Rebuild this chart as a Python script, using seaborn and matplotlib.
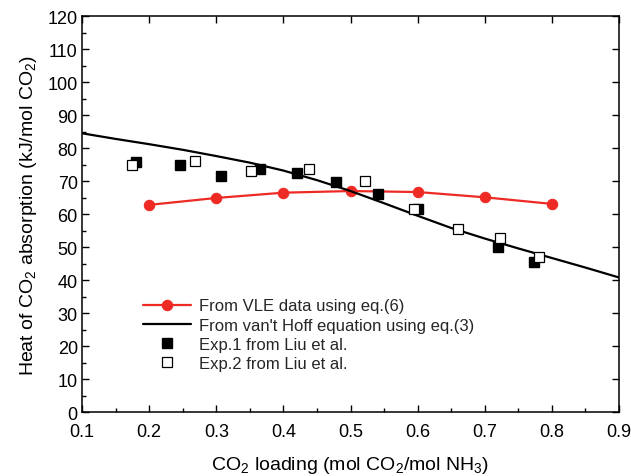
import matplotlib
matplotlib.use("Agg")
import matplotlib.pyplot as plt
import seaborn as sns
import pandas as pd
from matplotlib.ticker import MultipleLocator

sns.set_theme(style="white")
plt.rcParams['font.family'] = ['Liberation Sans', 'DejaVu Sans']
plt.rcParams['mathtext.fontset'] = 'custom'
plt.rcParams['mathtext.rm'] = 'Liberation Sans'

# VLE data (eq.6)
vle_x = [0.2, 0.3, 0.4, 0.5, 0.6, 0.7, 0.8]
vle_y = [62.8, 64.9, 66.5, 67.0, 66.7, 65.1, 63.1]

# van't Hoff (eq.3)
vh_x = [0.1, 0.15, 0.2, 0.25, 0.3, 0.35, 0.4, 0.45, 0.5, 0.55, 0.6, 0.65, 0.7, 0.75, 0.8, 0.85, 0.9]
vh_y = [84.5, 82.8, 81.2, 79.5, 77.6, 75.6, 73.2, 70.3, 67.0, 63.3, 59.5, 55.8, 52.6, 49.6, 46.7, 43.8, 40.8]

# Exp.1 (filled squares)
exp1_x = [0.181, 0.246, 0.307, 0.365, 0.420, 0.479, 0.541, 0.600, 0.719, 0.774]
exp1_y = [75.7, 74.9, 71.6, 73.8, 72.6, 69.6, 66.1, 61.5, 49.9, 45.4]

# Exp.2 (open squares)
exp2_x = [0.175, 0.269, 0.352, 0.438, 0.521, 0.594, 0.660, 0.722, 0.781]
exp2_y = [74.8, 76.2, 73.1, 73.6, 70.1, 61.7, 55.5, 52.7, 47.1]

fig = plt.figure(figsize=(6.31, 4.77), dpi=100)
ax = fig.add_axes([0.130, 0.134, 0.851, 0.830])

red = "#ee2a24"
sns.lineplot(x=vle_x, y=vle_y, ax=ax, color=red, marker="o", markersize=7.5,
             markeredgecolor=red, linewidth=1.6, label="From VLE data using eq.(6)")
sns.lineplot(x=vh_x, y=vh_y, ax=ax, color="black", linewidth=1.6,
             label="From van't Hoff equation using eq.(3)")
ax.plot(exp1_x, exp1_y, linestyle="none", marker="s", markersize=7,
        color="black", markeredgecolor="black", label="Exp.1 from Liu et al.")
ax.plot(exp2_x, exp2_y, linestyle="none", marker="s", markersize=7,
        markerfacecolor="white", markeredgecolor="black", markeredgewidth=0.9,
        label="Exp.2 from Liu et al.")

ax.set_xlim(0.1, 0.9)
ax.set_ylim(0, 120)
ax.xaxis.set_major_locator(MultipleLocator(0.1))
ax.xaxis.set_minor_locator(MultipleLocator(0.05))
ax.yaxis.set_major_locator(MultipleLocator(10))
ax.yaxis.set_minor_locator(MultipleLocator(5))
ax.set_xticklabels([f"{v:.1f}" for v in ax.get_xticks()])

ax.tick_params(axis="both", which="major", direction="in", length=5, width=1,
               labelsize=13, color="black", labelcolor="black", pad=3,
               top=True, right=True, bottom=True, left=True)
ax.tick_params(axis="x", which="major", pad=8)
ax.tick_params(axis="both", which="minor", direction="in", length=3, width=1,
               color="black", bottom=True, left=True, top=False, right=False)
for s in ax.spines.values():
    s.set_color("black")
    s.set_linewidth(1.1)

ax.set_xlabel("CO$_2$ loading (mol CO$_2$/mol NH$_3$)", fontsize=14, color="black", labelpad=10)
ax.set_ylabel("Heat of CO$_2$ absorption (kJ/mol CO$_2$)", fontsize=14, color="black", labelpad=6)

leg = ax.legend(loc="lower left", bbox_to_anchor=(0.085, 0.066), frameon=False,
                fontsize=12, handlelength=2.9, handletextpad=0.5, labelspacing=0.25)

fig.savefig("out.png", dpi=100, facecolor="white")
